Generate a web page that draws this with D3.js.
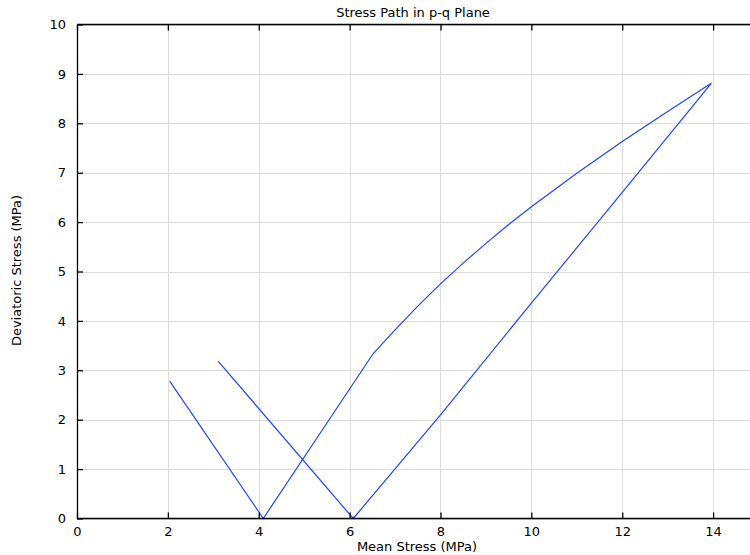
<!DOCTYPE html>
<html>
<head>
<meta charset="utf-8">
<script src="https://cdn.jsdelivr.net/npm/d3@7"></script>
<style>
  body { margin: 0; background: #fff; }
  text { font-family: "DejaVu Sans", sans-serif; fill: #000; }
</style>
</head>
<body>
<svg id="chart" width="750" height="555"></svg>
<script>
// Stress path values
const meanStress = [2.04, 4.10, 6.52, 7.00, 7.50, 8.00, 8.50, 9.00, 9.50, 10.00, 11.00, 12.00, 13.00, 13.96, 12.00, 10.00, 8.00, 6.08, 3.11];
const devStress  = [2.78, 0.00, 3.34, 3.82, 4.30, 4.75, 5.17, 5.57, 5.95, 6.31, 6.99, 7.63, 8.24, 8.81, 6.60, 4.36, 2.10, 0.00, 3.18];
const xTicks = [0, 2, 4, 6, 8, 10, 12, 14];
const yTicks = [0, 1, 2, 3, 4, 5, 6, 7, 8, 9, 10];

const size = {
    width: 750,
    height: 555,
    margin: { top: 24.5, right: 1, bottom: 36.5, left: 77 }
};

const svg = d3.select("#chart");
const innerW = size.width - size.margin.left - size.margin.right;
const innerH = size.height - size.margin.top - size.margin.bottom;

const x = d3.scaleLinear().domain([0, 14.79]).range([size.margin.left, size.margin.left + innerW]);
const y = d3.scaleLinear().domain([0, 10]).range([size.margin.top + innerH, size.margin.top]);

// Grid lines
svg.append("g")
    .selectAll("line")
    .data(xTicks)
    .join("line")
    .attr("x1", d => Math.round(x(d)) + 0.5)
    .attr("x2", d => Math.round(x(d)) + 0.5)
    .attr("y1", y(0))
    .attr("y2", y(10))
    .attr("stroke", "#dcdcdc");

svg.append("g")
    .selectAll("line")
    .data(yTicks)
    .join("line")
    .attr("x1", x(0))
    .attr("x2", size.width)
    .attr("y1", d => Math.round(y(d)) + 0.5)
    .attr("y2", d => Math.round(y(d)) + 0.5)
    .attr("stroke", "#dcdcdc");

// Stress path line
const pts = meanStress.map((p, i) => [p, devStress[i]]);
svg.append("path")
    .datum(pts)
    .attr("fill", "none")
    .attr("stroke", "#2244ff")
    .attr("stroke-width", 1.2)
    .attr("d", d3.line().x(d => x(d[0])).y(d => y(d[1])));

// Axes with inward ticks
const axisStyle = g => {
    g.selectAll(".domain").attr("stroke", "#000").attr("stroke-width", 1.3);
    g.selectAll(".tick line").attr("stroke", "#000").attr("stroke-width", 1.3);
    g.selectAll("text").attr("font-size", "13px").attr("font-family", "DejaVu Sans, sans-serif");
};

svg.append("g")
    .attr("transform", `translate(0, ${y(0)})`)
    .call(d3.axisBottom(x).tickValues(xTicks).tickSizeInner(-6).tickSizeOuter(0).tickPadding(8).tickFormat(d3.format("d")))
    .call(axisStyle)
    .call(g => g.select(".domain").attr("d", `M${x(0)},0H${size.width}`));

svg.append("g")
    .attr("transform", `translate(0, ${y(10)})`)
    .call(d3.axisTop(x).tickValues(xTicks).tickSizeInner(-6).tickSizeOuter(0).tickFormat(""))
    .call(axisStyle)
    .call(g => g.select(".domain").attr("d", `M${x(0)},0H${size.width}`));

svg.append("g")
    .attr("transform", `translate(${x(0)}, 0)`)
    .call(d3.axisLeft(y).tickValues(yTicks).tickSizeInner(-6).tickSizeOuter(0).tickPadding(11).tickFormat(d3.format("d")))
    .call(axisStyle);

// Title and axis labels
svg.append("text")
    .attr("x", size.margin.left + innerW / 2)
    .attr("y", 17)
    .attr("text-anchor", "middle")
    .attr("font-size", "13px")
    .text("Stress Path in p-q Plane");

svg.append("text")
    .attr("x", size.margin.left + innerW / 2 + 4)
    .attr("y", 551)
    .attr("text-anchor", "middle")
    .attr("font-size", "13px")
    .text("Mean Stress (MPa)");

svg.append("text")
    .attr("transform", "rotate(-90)")
    .attr("x", -(size.margin.top + innerH / 2) + 1)
    .attr("y", 21)
    .attr("text-anchor", "middle")
    .attr("font-size", "13px")
    .text("Deviatoric Stress (MPa)");
</script>
</body>
</html>
